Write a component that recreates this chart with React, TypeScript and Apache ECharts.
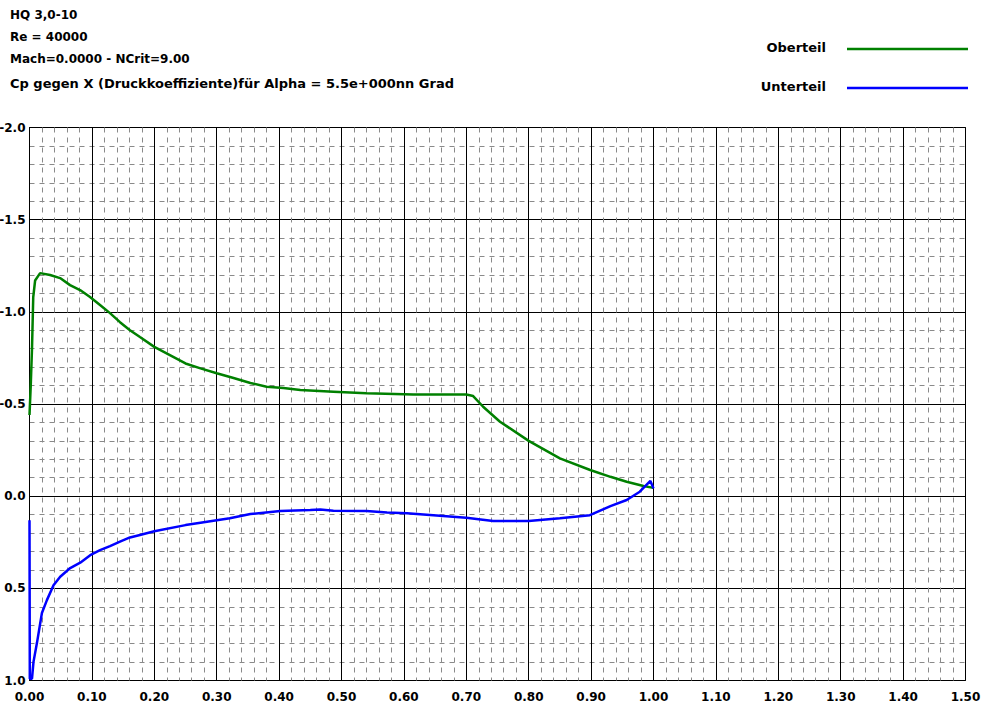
import React, { useEffect, useRef } from "react";
import * as echarts from "echarts";

const titleLines = [
  "HQ 3,0-10",
  "Re = 40000",
  "Mach=0.0000 - NCrit=9.00",
  "Cp gegen X (Druckkoeffiziente)für Alpha = 5.5e+000nn Grad",
];

const seriesNames = ["Oberteil", "Unterteil"];
const seriesColors = ["#008000", "#0000ff"];

const upperX = [0, 0.002, 0.004, 0.006, 0.009, 0.017, 0.033, 0.049, 0.065, 0.081, 0.097, 0.113, 0.129, 0.145, 0.161, 0.177, 0.2, 0.25, 0.274, 0.3, 0.327, 0.354, 0.38, 0.407, 0.434, 0.487, 0.54, 0.615, 0.7, 0.711, 0.727, 0.754, 0.8, 0.85, 0.8985, 0.931, 0.957, 0.984, 1.0];
const upperCp = [-0.44, -0.6, -0.8, -1.08, -1.17, -1.21, -1.2, -1.183, -1.145, -1.118, -1.08, -1.037, -0.993, -0.944, -0.9, -0.863, -0.81, -0.72, -0.693, -0.667, -0.641, -0.614, -0.594, -0.587, -0.576, -0.567, -0.558, -0.552, -0.552, -0.543, -0.485, -0.404, -0.3, -0.205, -0.142, -0.105, -0.078, -0.055, -0.045];

const lowerX = [0, 0.0005, 0.004, 0.0064, 0.0119, 0.0199, 0.0279, 0.0385, 0.0492, 0.0652, 0.0813, 0.0973, 0.113, 0.129, 0.145, 0.161, 0.177, 0.2, 0.25, 0.274, 0.321, 0.354, 0.402, 0.45, 0.466, 0.487, 0.54, 0.573, 0.605, 0.647, 0.7, 0.743, 0.8, 0.85, 0.898, 0.931, 0.957, 0.978, 0.995, 1.0];
const lowerCp = [0.13, 0.99, 0.99, 0.899, 0.797, 0.634, 0.564, 0.483, 0.437, 0.39, 0.361, 0.32, 0.293, 0.271, 0.247, 0.224, 0.211, 0.19, 0.157, 0.144, 0.12, 0.097, 0.081, 0.075, 0.072, 0.079, 0.081, 0.088, 0.093, 0.103, 0.117, 0.135, 0.135, 0.12, 0.103, 0.054, 0.021, -0.024, -0.083, -0.042];

const xMin = 0, xMax = 1.5, xInterval = 0.1;
const yMin = -2, yMax = 1, yInterval = 0.5;

const FONT = "DejaVu Sans";

export default function App() {
  const ref = useRef<HTMLDivElement>(null);
  useEffect(() => {
    if (!ref.current) return;
    const chart = echarts.init(ref.current, null, { renderer: "svg" });
    const zip = (xs: number[], ys: number[]) => xs.map((x, i) => [x, ys[i]]);
    const textStyleBase = { fontFamily: FONT, fontWeight: "bold" as const, fontSize: 12, fill: "#000" };
    const graphics: any[] = [];
    const titleYs = [15, 37.3, 59.3, 83.3];
    const titleSizes = [12, 12, 12, 13];
    titleLines.forEach((t, i) => {
      graphics.push({
        type: "text",
        x: 10,
        y: titleYs[i],
        style: { ...textStyleBase, fontSize: titleSizes[i], text: t, textAlign: "left", textVerticalAlign: "middle" },
      });
    });
    const legendYs = [48.5, 87.5];
    seriesNames.forEach((n, i) => {
      graphics.push({
        type: "text",
        x: 826,
        y: legendYs[i] - 1,
        style: { ...textStyleBase, fontSize: 13, text: n, textAlign: "right", textVerticalAlign: "middle" },
      });
      graphics.push({
        type: "line",
        shape: { x1: 847, y1: legendYs[i] + 0.5, x2: 968, y2: legendYs[i] + 0.5 },
        style: { stroke: seriesColors[i], lineWidth: 2.5 },
      });
    });
    chart.setOption({
      animation: false,
      backgroundColor: "#fff",
      grid: {
        left: 29.5,
        right: 15.5,
        top: 127.5,
        bottom: 27.5,
        show: true,
        borderColor: "#000",
        borderWidth: 1,
        backgroundColor: "#fff",
        containLabel: false,
        outerBoundsMode: "none",
      },
      xAxis: {
        type: "value",
        min: xMin,
        max: xMax,
        interval: xInterval,
        axisLine: { show: true, lineStyle: { color: "#000", width: 1 } },
        axisTick: { show: false },
        axisLabel: {
          formatter: (v: number) => v.toFixed(2),
          fontFamily: FONT,
          fontWeight: "bold",
          fontSize: 12,
          color: "#000",
          margin: 10,
          showMinLabel: true,
          showMaxLabel: true,
        },
        splitLine: { show: true, lineStyle: { color: "#000", width: 1 } },
        minorTick: { show: false, splitNumber: 5 },
        minorSplitLine: { show: true, lineStyle: { color: "#8a8a8a", width: 1, type: [5, 5] } },
      },
      yAxis: {
        type: "value",
        inverse: true,
        min: yMin,
        max: yMax,
        interval: yInterval,
        axisLine: { show: true, lineStyle: { color: "#000", width: 1 } },
        axisTick: { show: false },
        axisLabel: {
          formatter: (v: number) => v.toFixed(1),
          fontFamily: FONT,
          fontWeight: "bold",
          fontSize: 12,
          color: "#000",
          margin: 4,
          showMinLabel: true,
          showMaxLabel: true,
        },
        splitLine: { show: true, lineStyle: { color: "#000", width: 1 } },
        minorTick: { show: false, splitNumber: 5 },
        minorSplitLine: { show: true, lineStyle: { color: "#8a8a8a", width: 1, type: [5, 5] } },
      },
      series: [
        {
          name: seriesNames[0],
          type: "line",
          data: zip(upperX, upperCp),
          showSymbol: false,
          lineStyle: { color: seriesColors[0], width: 2.5 },
          itemStyle: { color: seriesColors[0] },
          z: 3,
        },
        {
          name: seriesNames[1],
          type: "line",
          data: zip(lowerX, lowerCp),
          showSymbol: false,
          lineStyle: { color: seriesColors[1], width: 2.5 },
          itemStyle: { color: seriesColors[1] },
          z: 4,
        },
      ],
      graphic: graphics,
    });
    return () => chart.dispose();
  }, []);
  return (
    <div
      ref={ref}
      style={{ position: "fixed", left: 0, top: 0, width: 981, height: 708, background: "#fff" }}
    />
  );
}
